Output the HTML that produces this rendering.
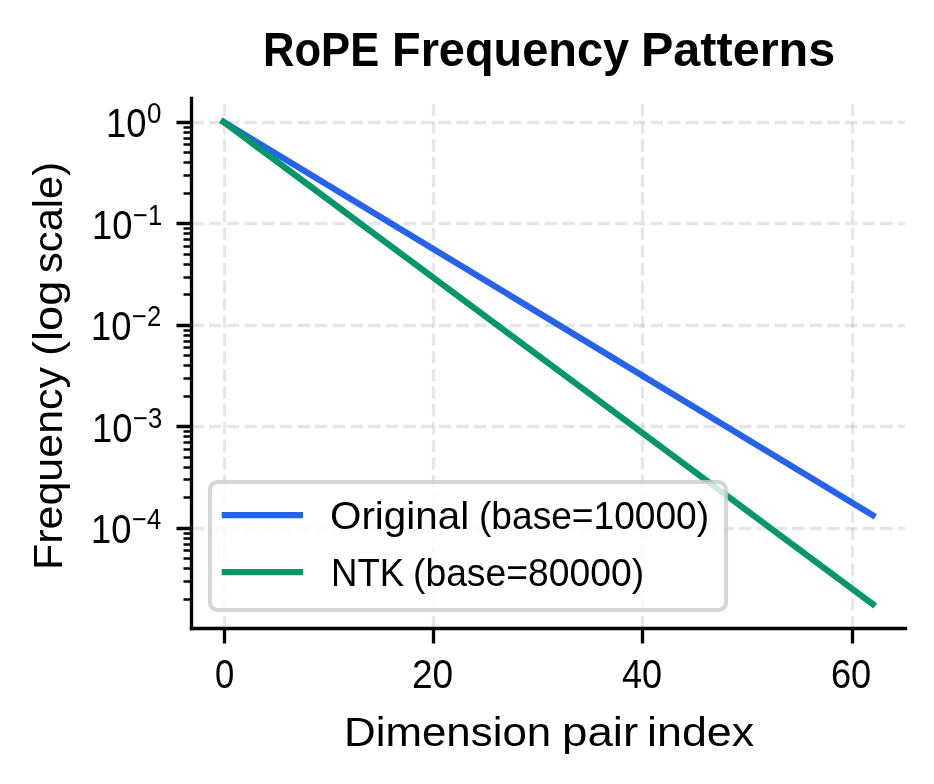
<!DOCTYPE html>
<html lang="en">
<head>
<meta charset="utf-8">
<title>RoPE Frequency Patterns</title>
<style>
html,body{margin:0;padding:0;background:#fff;}
body{width:934px;height:784px;overflow:hidden;}
svg{display:block;}
text{font-family:"Liberation Sans", sans-serif;fill:#000;}
</style>
</head>
<body>
<svg width="934" height="784" viewBox="0 0 934 784">
<rect x="0" y="0" width="934" height="784" fill="#ffffff"/>
<g id="grid" fill="none" stroke="#b0b0b0" stroke-opacity="0.3" stroke-width="3.33" stroke-dasharray="12.33 5.33">
<path d="M224.5 628.5V98.8"/>
<path d="M433.5 628.5V98.8"/>
<path d="M642.5 628.5V98.8"/>
<path d="M852.5 628.5V98.8"/>
<path d="M191.5 122.5H905"/>
<path d="M191.5 223.5H905"/>
<path d="M191.5 325.5H905"/>
<path d="M191.5 426.5H905"/>
<path d="M191.5 528.5H905"/>
</g>
<g id="lines" fill="none" stroke-width="6.25" stroke-linecap="square" stroke-linejoin="round">
<path d="M223.6 121.93L872.7 515.23" stroke="#2563eb"/>
<path d="M223.6 121.93L872.7 604.03" stroke="#059669"/>
</g>
<g id="ticks" fill="none" stroke="#000">
<path d="M224.5 628.5v15M433.5 628.5v15M642.5 628.5v15M852.5 628.5v15M191.5 122.5h-15M191.5 223.5h-15M191.5 325.5h-15M191.5 426.5h-15M191.5 528.5h-15" stroke-width="3.33"/>
<path d="M191.5 599.5h-8M191.5 581.5h-8M191.5 568.5h-8M191.5 558.5h-8M191.5 550.5h-8M191.5 544.5h-8M191.5 538.5h-8M191.5 533.5h-8M191.5 497.5h-8M191.5 479.5h-8M191.5 467.5h-8M191.5 457.5h-8M191.5 449.5h-8M191.5 442.5h-8M191.5 436.5h-8M191.5 431.5h-8M191.5 396.5h-8M191.5 378.5h-8M191.5 365.5h-8M191.5 355.5h-8M191.5 347.5h-8M191.5 341.5h-8M191.5 335.5h-8M191.5 330.5h-8M191.5 294.5h-8M191.5 277.5h-8M191.5 264.5h-8M191.5 254.5h-8M191.5 246.5h-8M191.5 239.5h-8M191.5 233.5h-8M191.5 228.5h-8M191.5 193.5h-8M191.5 175.5h-8M191.5 162.5h-8M191.5 152.5h-8M191.5 144.5h-8M191.5 138.5h-8M191.5 132.5h-8M191.5 127.5h-8" stroke-width="2.5"/>
</g>
<g id="spines" fill="none" stroke="#000" stroke-width="3.33" stroke-linecap="square">
<path d="M191.5 628.5V98.5"/>
<path d="M191.5 628.5H905.5"/>
</g>
<g id="legend">
<rect x="210" y="482" width="516" height="128" rx="7.5" ry="7.5" fill="#ffffff" fill-opacity="0.8" stroke="#cccccc" stroke-opacity="0.8" stroke-width="4.17"/>
<path d="M224.85 515H299.85" fill="none" stroke="#2563eb" stroke-width="6.25" stroke-linecap="square"/>
<path d="M224.85 572H299.85" fill="none" stroke="#059669" stroke-width="6.25" stroke-linecap="square"/>
</g>
<defs><filter id="gray" filterUnits="userSpaceOnUse" x="0" y="0" width="934" height="784" color-interpolation-filters="sRGB"><feColorMatrix type="saturate" values="0"/></filter></defs>
<g id="labels" filter="url(#gray)">
<text y="66" font-size="48.12" font-weight="bold"><tspan class="w" x="263" textLength="116.19" lengthAdjust="spacingAndGlyphs">RoPE</tspan> <tspan class="w" x="392" textLength="237.04" lengthAdjust="spacingAndGlyphs">Frequency</tspan> <tspan class="w" x="641" textLength="194.14" lengthAdjust="spacingAndGlyphs">Patterns</tspan></text>
<text y="746" font-size="41"><tspan class="w" x="344" textLength="207.18" lengthAdjust="spacingAndGlyphs">Dimension</tspan> <tspan class="w" x="562" textLength="76.19" lengthAdjust="spacingAndGlyphs">pair</tspan> <tspan class="w" x="647" textLength="107.16" lengthAdjust="spacingAndGlyphs">index</tspan></text>
<text transform="translate(62 0) rotate(-90)" font-size="41"><tspan class="w" x="-570" y="0" textLength="203.05" lengthAdjust="spacingAndGlyphs">Frequency</tspan> <tspan class="w" x="-356" y="0" textLength="75.32" lengthAdjust="spacingAndGlyphs">(log</tspan> <tspan class="w" x="-273" y="0" textLength="111.13" lengthAdjust="spacingAndGlyphs">scale)</tspan></text>
<text class="w" x="215" y="688" font-size="40.5" textLength="19.27" lengthAdjust="spacingAndGlyphs">0</text>
<text class="w" x="412" y="688" font-size="40.5" textLength="41.26" lengthAdjust="spacingAndGlyphs">20</text>
<text class="w" x="622" y="688" font-size="40.5" textLength="40.11" lengthAdjust="spacingAndGlyphs">40</text>
<text class="w" x="831" y="688" font-size="40.5" textLength="40.26" lengthAdjust="spacingAndGlyphs">60</text>
<text class="w" x="106" y="137" font-size="40.5" textLength="40.39" lengthAdjust="spacingAndGlyphs">10</text>
<text class="w" x="147" y="123" font-size="28.88" textLength="14.4" lengthAdjust="spacingAndGlyphs">0</text>
<text class="w" x="92" y="239" font-size="40.5" textLength="40.39" lengthAdjust="spacingAndGlyphs">10</text>
<text class="w" x="133" y="225" font-size="28.88" textLength="29.16" lengthAdjust="spacingAndGlyphs">−1</text>
<text class="w" x="91" y="340" font-size="40.5" textLength="40.39" lengthAdjust="spacingAndGlyphs">10</text>
<text class="w" x="132" y="326" font-size="28.88" textLength="29.16" lengthAdjust="spacingAndGlyphs">−2</text>
<text class="w" x="92" y="442" font-size="40.5" textLength="40.39" lengthAdjust="spacingAndGlyphs">10</text>
<text class="w" x="133" y="428" font-size="28.88" textLength="29.16" lengthAdjust="spacingAndGlyphs">−3</text>
<text class="w" x="91" y="543" font-size="40.5" textLength="40.39" lengthAdjust="spacingAndGlyphs">10</text>
<text class="w" x="132" y="529" font-size="28.88" textLength="29.11" lengthAdjust="spacingAndGlyphs">−4</text>
<text y="529" font-size="38.25"><tspan class="w" x="330" textLength="139.16" lengthAdjust="spacingAndGlyphs">Original</tspan> <tspan class="w" x="479" textLength="230.07" lengthAdjust="spacingAndGlyphs">(base=10000)</tspan></text>
<text y="586" font-size="38.25"><tspan class="w" x="331" textLength="73.25" lengthAdjust="spacingAndGlyphs">NTK</tspan> <tspan class="w" x="413" textLength="231.07" lengthAdjust="spacingAndGlyphs">(base=80000)</tspan></text>
</g>
</svg>
</body>
</html>
